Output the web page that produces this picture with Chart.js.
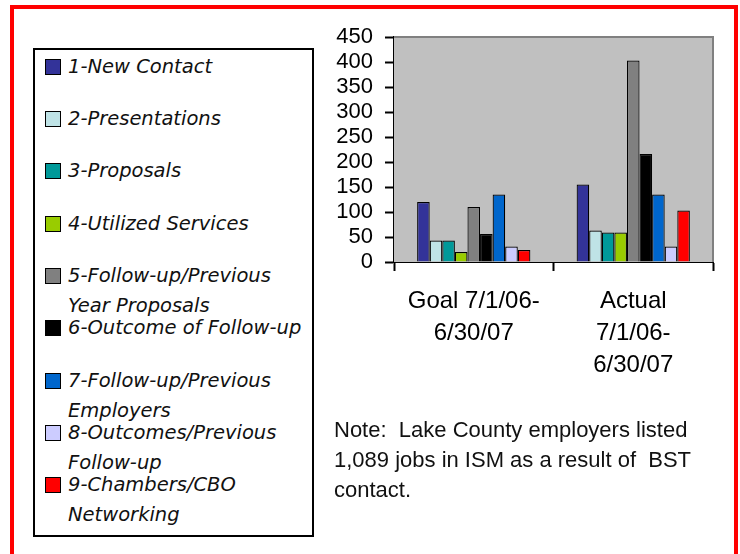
<!DOCTYPE html>
<html>
<head>
<meta charset="utf-8">
<script src="https://cdn.jsdelivr.net/npm/chart.js@4"></script>
<style>
  html, body { margin:0; padding:0; background:#fff; }
  #wrap { position:relative; width:740px; height:554px; overflow:hidden; background:#fff; }
  #frame { position:absolute; left:10px; top:5px; width:720px; height:600px; border:4px solid #ff0000; border-bottom:none; }
  canvas { position:absolute; left:0; top:0; }
  #legend { position:absolute; left:33px; top:48px; width:277px; height:485px; border:2px solid #000; background:#fff; }
  .item { position:absolute; left:0; font-family:"DejaVu Sans", sans-serif; font-style:italic; font-size:19.5px; line-height:30px; color:#111; white-space:nowrap; }
  .sw { position:absolute; left:10px; top:7px; width:14px; height:14px; border:1.5px solid #000; }
  .txt { position:absolute; left:33px; top:0; }
  #note { position:absolute; left:334px; top:415px; font-family:"Liberation Sans", Arial, sans-serif; font-size:22px; line-height:30px; color:#111; white-space:nowrap; }
</style>
</head>
<body>
<div id="wrap">
  <div id="frame"></div>
  <canvas id="c" width="740" height="554"></canvas>
  <div id="legend"></div>
  <div id="note">Note:&nbsp; Lake County employers listed<br>1,089 jobs in ISM as a result of&nbsp; BST<br>contact.</div>
</div>
<script>
// ---- data ----
const categories = [["Goal 7/1/06-", "6/30/07"], ["Actual", "7/1/06-", "6/30/07"]];
const seriesLines = [
  ["1-New Contact"],
  ["2-Presentations"],
  ["3-Proposals"],
  ["4-Utilized Services"],
  ["5-Follow-up/Previous", "Year Proposals"],
  ["6-Outcome of Follow-up"],
  ["7-Follow-up/Previous", "Employers"],
  ["8-Outcomes/Previous", "Follow-up"],
  ["9-Chambers/CBO", "Networking"]
];
const goalValues   = [120, 43, 43, 20, 110, 56, 135, 31, 24];
const actualValues = [155, 63, 59, 59, 403, 216, 135, 31, 103];
const seriesColors = ["#333399", "#bfe3e6", "#009999", "#99cc00", "#808080", "#000000", "#0066cc", "#ccccff", "#ff0000"];
const yTicks = [0, 50, 100, 150, 200, 250, 300, 350, 400, 450];

// ---- legend (HTML) ----
const legend = document.getElementById('legend');
seriesLines.forEach((lines, i) => {
  const it = document.createElement('div');
  it.className = 'item';
  it.style.top = (66.7 + 52.3 * i - 15 - 50) + 'px';
  const sw = document.createElement('div');
  sw.className = 'sw';
  sw.style.background = seriesColors[i];
  const tx = document.createElement('div');
  tx.className = 'txt';
  tx.innerHTML = lines.join('<br>');
  it.appendChild(sw); it.appendChild(tx);
  legend.appendChild(it);
});

// ---- chart ----
const plotBg = {
  id: 'plotBg',
  beforeDatasetsDraw(chart) {
    const {ctx, chartArea: a} = chart;
    ctx.save();
    ctx.fillStyle = '#c0c0c0';
    ctx.fillRect(a.left, a.top, a.right - a.left, a.bottom - a.top);
    ctx.strokeStyle = '#808080';
    ctx.lineWidth = 2;
    ctx.beginPath();
    ctx.moveTo(a.left, a.top);
    ctx.lineTo(a.right, a.top);
    ctx.lineTo(a.right, a.bottom);
    ctx.stroke();
    ctx.restore();
  }
};

const datasets = seriesLines.map((lines, i) => ({
  label: lines.join(' '),
  data: [goalValues[i], actualValues[i]],
  backgroundColor: seriesColors[i],
  borderColor: '#000',
  borderWidth: 1.2,
  categoryPercentage: 0.71,
  barPercentage: 1
}));

new Chart(document.getElementById('c'), {
  type: 'bar',
  data: { labels: categories, datasets },
  options: {
    responsive: false,
    animation: false,
    layout: { padding: { left: 314, top: 37, right: 27, bottom: 142 } },
    plugins: { legend: { display: false }, tooltip: { enabled: false } },
    scales: {
      x: {
        grid: { display: true, drawOnChartArea: false, offset: true, tickLength: 9, tickWidth: 2, tickColor: '#000' },
        border: { display: true, color: '#000', width: 2 },
        ticks: { color: '#000', padding: 14, maxRotation: 0, autoSkip: false,
                 font: { family: '"Liberation Sans", Arial, sans-serif', size: 24, lineHeight: 1.333 } },
        afterFit(s) { s.height = 150; }
      },
      y: {
        min: 0, max: 450,
        afterBuildTicks(s) { s.ticks = yTicks.map(v => ({ value: v })); },
        grid: { display: true, drawOnChartArea: false, tickLength: 9, tickWidth: 2, tickColor: '#000' },
        border: { display: true, color: '#000', width: 2 },
        ticks: { color: '#000', padding: 12, autoSkip: false,
                 font: { family: '"Liberation Sans", Arial, sans-serif', size: 22 } },
        afterFit(s) { s.width = 80; }
      }
    }
  },
  plugins: [plotBg]
});
</script>
</body>
</html>
